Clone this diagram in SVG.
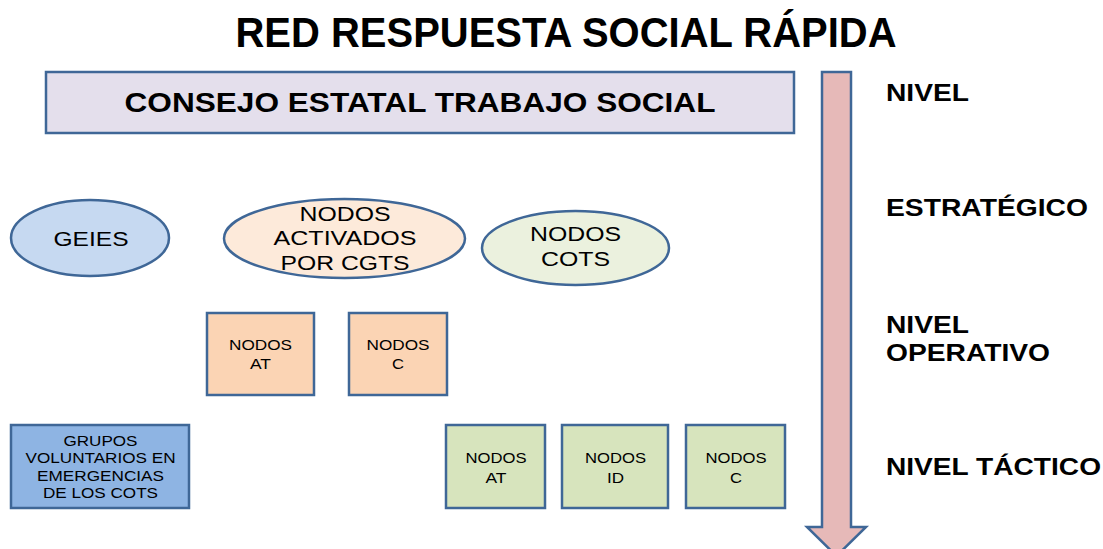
<svg xmlns="http://www.w3.org/2000/svg" width="1103" height="549" viewBox="0 0 1103 549">
<style>
.s{stroke:#3F6797;stroke-width:2.5}
.t{font-family:"Liberation Sans",Arial,sans-serif;fill:#000;text-anchor:middle}
.b{font-weight:bold}
.lv{font-family:"Liberation Sans",Arial,sans-serif;font-weight:bold;font-size:23px;fill:#000}
</style>
<rect width="1103" height="549" fill="#fff"/>
<text class="t b" x="566" y="47" font-size="42" textLength="661" lengthAdjust="spacingAndGlyphs">RED RESPUESTA SOCIAL RÁPIDA</text>
<g id="consejo">
<rect class="s" x="46" y="72" width="748" height="61" fill="#E4DFEC"/>
<text class="t b" x="420" y="112" font-size="27" textLength="591" lengthAdjust="spacingAndGlyphs">CONSEJO ESTATAL TRABAJO SOCIAL</text>
</g>
<g id="nivel-arrow">
<path class="s" d="M822 72 H851 V527 H866 L836.5 556 L807 527 H822 Z" fill="#E6B9B8"/>
</g>
<g id="levels">
<text class="lv" x="886" y="101" textLength="83" lengthAdjust="spacingAndGlyphs">NIVEL</text>
<text class="lv" x="886" y="216" textLength="202" lengthAdjust="spacingAndGlyphs">ESTRATÉGICO</text>
<text class="lv" x="886" y="333" textLength="83" lengthAdjust="spacingAndGlyphs">NIVEL</text>
<text class="lv" x="886" y="361" textLength="164" lengthAdjust="spacingAndGlyphs">OPERATIVO</text>
<text class="lv" x="886" y="475" textLength="215" lengthAdjust="spacingAndGlyphs">NIVEL TÁCTICO</text>
</g>
<g id="geies">
<ellipse class="s" cx="90" cy="238" rx="79" ry="38" fill="#C6D9F1"/>
<text class="t" x="91" y="246" font-size="20" textLength="75" lengthAdjust="spacingAndGlyphs">GEIES</text>
</g>
<g id="nodos-activados">
<ellipse class="s" cx="344.5" cy="238.5" rx="120.5" ry="39.5" fill="#FDEADA"/>
<text class="t" font-size="20"><tspan x="345" y="221" textLength="91" lengthAdjust="spacingAndGlyphs">NODOS</tspan><tspan x="345" y="245" textLength="143" lengthAdjust="spacingAndGlyphs">ACTIVADOS</tspan><tspan x="345" y="270" textLength="129" lengthAdjust="spacingAndGlyphs">POR CGTS</tspan></text>
</g>
<g id="nodos-cots">
<ellipse class="s" cx="575.5" cy="248" rx="93.5" ry="37" fill="#EBF1DE"/>
<text class="t" font-size="20"><tspan x="575.5" y="241" textLength="91" lengthAdjust="spacingAndGlyphs">NODOS</tspan><tspan x="575.5" y="266" textLength="69" lengthAdjust="spacingAndGlyphs">COTS</tspan></text>
</g>
<g id="op-at">
<rect class="s" x="207" y="313" width="107" height="82" fill="#FBD4B4"/>
<text class="t" font-size="14.5"><tspan x="260.5" y="350" textLength="63" lengthAdjust="spacingAndGlyphs">NODOS</tspan><tspan x="260.5" y="369" textLength="21" lengthAdjust="spacingAndGlyphs">AT</tspan></text>
</g>
<g id="op-c">
<rect class="s" x="349" y="313" width="98" height="82" fill="#FBD4B4"/>
<text class="t" font-size="14.5"><tspan x="398" y="350" textLength="63" lengthAdjust="spacingAndGlyphs">NODOS</tspan><tspan x="398" y="369" textLength="12" lengthAdjust="spacingAndGlyphs">C</tspan></text>
</g>
<g id="grupos">
<rect class="s" x="11" y="425" width="178" height="83" fill="#8EB4E3"/>
<text class="t" font-size="14.5"><tspan x="100.5" y="446" textLength="74" lengthAdjust="spacingAndGlyphs">GRUPOS</tspan><tspan x="100.5" y="463" textLength="150" lengthAdjust="spacingAndGlyphs">VOLUNTARIOS EN</tspan><tspan x="100.5" y="481" textLength="127" lengthAdjust="spacingAndGlyphs">EMERGENCIAS</tspan><tspan x="100.5" y="498" textLength="115" lengthAdjust="spacingAndGlyphs">DE LOS COTS</tspan></text>
</g>
<g id="tac-at">
<rect class="s" x="446" y="425" width="99" height="83" fill="#D7E4BD"/>
<text class="t" font-size="14.5"><tspan x="496" y="463" textLength="61" lengthAdjust="spacingAndGlyphs">NODOS</tspan><tspan x="496" y="483" textLength="21" lengthAdjust="spacingAndGlyphs">AT</tspan></text>
</g>
<g id="tac-id">
<rect class="s" x="562" y="425" width="106" height="83" fill="#D7E4BD"/>
<text class="t" font-size="14.5"><tspan x="615.5" y="463" textLength="61" lengthAdjust="spacingAndGlyphs">NODOS</tspan><tspan x="615.5" y="483" textLength="17" lengthAdjust="spacingAndGlyphs">ID</tspan></text>
</g>
<g id="tac-c">
<rect class="s" x="686" y="425" width="99" height="83" fill="#D7E4BD"/>
<text class="t" font-size="14.5"><tspan x="736" y="463" textLength="61" lengthAdjust="spacingAndGlyphs">NODOS</tspan><tspan x="736" y="483" textLength="12" lengthAdjust="spacingAndGlyphs">C</tspan></text>
</g>
<g id="connectors"></g>
</svg>
